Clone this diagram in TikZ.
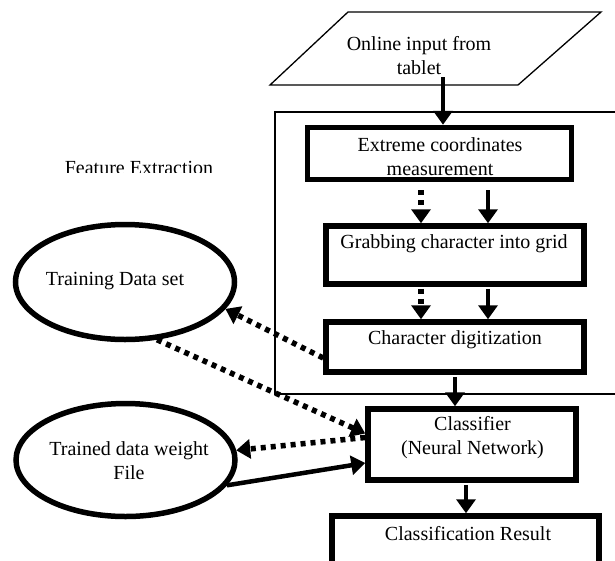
\documentclass[tikz,border=0pt]{standalone}
\usepackage{fontspec}
\setmainfont{Liberation Serif}
\usetikzlibrary{arrows.meta,shapes.geometric}
\begin{document}
\begin{tikzpicture}[x=1pt,y=-1pt,
  box/.style={draw,line width=5.5pt,rectangle,inner sep=0pt},
  oval/.style={draw,ellipse,line width=5.5pt,inner sep=0pt},
  txt/.style={font=\fontsize{20}{24}\selectfont,align=center,anchor=base,inner sep=0pt},
  tipA/.tip={Triangle[length=14pt,width=19pt]},
  sarr/.style={line width=4.5pt,-tipA},
  darr/.style={line width=5.5pt,dash pattern=on 5pt off 5pt,-tipA},
  thin/.style={line width=1.3pt}
]
\useasboundingbox (0,0) rectangle (615,560);
\clip (0,0) rectangle (615,560);
% input parallelogram
\coordinate (p1) at (348,12);
\coordinate (p2) at (601,12);
\coordinate (p3) at (518,85);
\coordinate (p4) at (270,85);
\draw[thin] (p1) -- (p2) -- (p3) -- (p4) -- cycle;
\node[txt] (tin) at (419,74) {Online input from\\tablet};
% feature extraction frame
\coordinate (f1) at (275,112);
\coordinate (f2) at (630,394);
\draw[thin] (f1) rectangle (f2);
\begin{scope}
\clip (0,0) rectangle (270,172.8);
\node[txt] (tfe) at (139,174.5) {Feature Extraction};
\end{scope}
% boxes
\node[box,minimum width=264pt,minimum height=52pt] (ext) at (439.5,153.5) {};
\node[box,minimum width=258pt,minimum height=58pt] (grab) at (455,255) {};
\node[box,minimum width=258pt,minimum height=50pt] (dig) at (455,347) {};
\node[box,minimum width=208pt,minimum height=71pt] (cls) at (472,444.5) {};
\node[box,minimum width=267pt,minimum height=100pt] (res) at (465.5,566) {};
\node[txt] (text) at (440,175) {Extreme coordinates\\measurement};
\node[txt] (tgrab) at (454,248) {Grabbing character into grid};
\node[txt] (tdig) at (455,344) {Character digitization};
\node[txt] (tcls) at (472.5,454) {Classifier\\(Neural Network)};
\node[txt] (tres) at (468,540) {Classification Result};
% ellipses
\node[oval,minimum width=219pt,minimum height=115pt] (train) at (125,282) {};
\node[oval,minimum width=219pt,minimum height=113pt] (wt) at (125.5,460) {};
\node[txt] (ttrain) at (115,285) {Training Data set};
\node[txt] (twt) at (129,479) {Trained data weight\\File};
% vertical arrows
\coordinate (c0) at (443,77);
\coordinate (xd) at (421,0);
\coordinate (xs) at (488,0);
\coordinate (xm) at (455,0);
\coordinate (xr) at (466,0);
\draw[sarr] (c0) -- (ext.north -| c0);
\draw[darr,shorten <=8pt] (ext.south -| xd) -- (grab.north -| xd);
\draw[sarr,shorten <=8pt] (ext.south -| xs) -- (grab.north -| xs);
\draw[darr,shorten <=2pt] (grab.south -| xd) -- (dig.north -| xd);
\draw[sarr,shorten <=2pt] (grab.south -| xs) -- (dig.north -| xs);
\draw[sarr,shorten <=2pt] (dig.south -| xm) -- (cls.north -| xm);
\draw[sarr,shorten <=2pt] (cls.south -| xr) -- (res.north -| xr);
% diagonal arrows
\draw[darr] ([yshift=-11pt]dig.west) -- (train.-15);
\draw[darr] (train.-61) -- ([yshift=11pt]cls.west);
\draw[darr] ([yshift=7pt]cls.west) -- (wt.5);
\draw[sarr] (wt.-14) -- ([yshift=-18.5pt]cls.west);
\end{tikzpicture}
\end{document}
